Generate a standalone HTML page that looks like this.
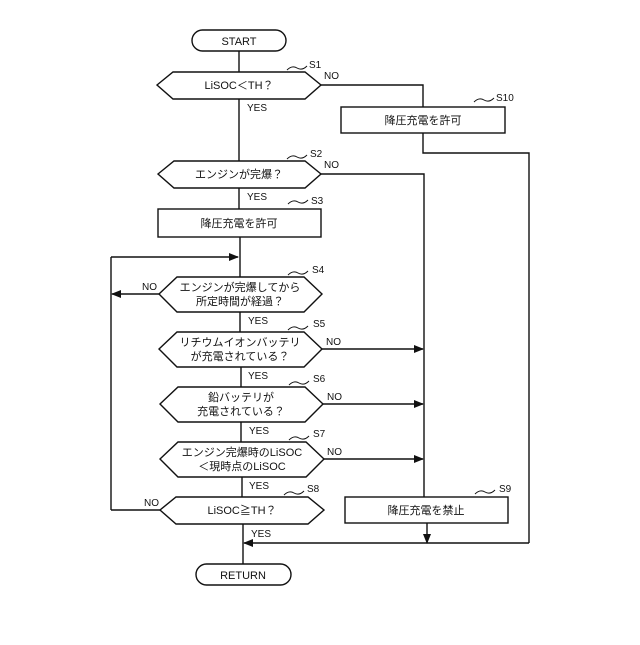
<!DOCTYPE html>
<html><head><meta charset="utf-8"><style>
body{margin:0;background:#fff}
svg text{font-family:"Liberation Sans","Noto Sans CJK JP",sans-serif;fill:#111}
</style></head><body>
<svg width="640" height="640" viewBox="0 0 640 640" xmlns="http://www.w3.org/2000/svg">
<defs><marker id="a" markerWidth="10" markerHeight="8" refX="9" refY="4" orient="auto" markerUnits="userSpaceOnUse"><path d="M0,0 L10,4 L0,8 Z" fill="#111"/></marker></defs>
<g stroke="#111" stroke-width="1.4" fill="none">
<rect x="192" y="30" width="94" height="21" rx="10.5"/>
<rect x="196" y="564" width="95" height="21" rx="10.5"/>
<line x1="239" y1="51" x2="239" y2="72"/>
<polygon points="157,85 173,72 305,72 321,85 305,99 173,99"/>
<line x1="239" y1="99" x2="239" y2="161"/>
<polyline points="321,85 423,85 423,107"/>
<rect x="341" y="107" width="164" height="26"/>
<polyline points="423,133 423,153 529,153 529,543"/>
<polygon points="158,174 174,161 305,161 321,174 305,188 174,188"/>
<polyline points="321,174 424,174 424,497"/>
<line x1="239" y1="188" x2="239" y2="209"/>
<rect x="158" y="209" width="163" height="28"/>
<line x1="240" y1="237" x2="240" y2="277"/>
<line x1="111" y1="257" x2="238" y2="257" marker-end="url(#a)"/>
<line x1="111" y1="257" x2="111" y2="510"/>
<polygon points="159,294 177,277 304,277 322,294 304,312 177,312"/>
<line x1="160" y1="294" x2="112" y2="294" marker-end="url(#a)"/>
<line x1="240" y1="312" x2="240" y2="332"/>
<polygon points="159,349 177,332 304,332 322,349 304,367 177,367"/>
<line x1="322" y1="349" x2="423" y2="349" marker-end="url(#a)"/>
<line x1="241" y1="367" x2="241" y2="387"/>
<polygon points="160,404 178,387 305,387 323,404 305,422 178,422"/>
<line x1="323" y1="404" x2="423" y2="404" marker-end="url(#a)"/>
<line x1="241" y1="422" x2="241" y2="442"/>
<polygon points="160,459 178,442 306,442 324,459 306,477 178,477"/>
<line x1="324" y1="459" x2="423" y2="459" marker-end="url(#a)"/>
<line x1="242" y1="477" x2="242" y2="497"/>
<polygon points="160,510 176,497 308,497 324,510 308,524 176,524"/>
<line x1="160" y1="510" x2="111" y2="510"/>
<line x1="243" y1="524" x2="243" y2="564"/>
<rect x="345" y="497" width="163" height="26"/>
<line x1="427" y1="523" x2="427" y2="543" marker-end="url(#a)"/>
<line x1="529" y1="543" x2="244" y2="543" marker-end="url(#a)"/>
<g stroke-width="1">
<path d="M287,70 q5,-5 10,-2 t10,-2"/><path d="M474,102 q5,-5 10,-2 t10,-2"/>
<path d="M287,159 q5,-5 10,-2 t10,-2"/><path d="M288,204 q5,-5 10,-2 t10,-2"/>
<path d="M288,275 q5,-5 10,-2 t10,-2"/><path d="M288,330 q5,-5 10,-2 t10,-2"/>
<path d="M289,385 q5,-5 10,-2 t10,-2"/><path d="M289,440 q5,-5 10,-2 t10,-2"/>
<path d="M284,495 q5,-5 10,-2 t10,-2"/><path d="M475,494 q5,-5 10,-2 t10,-2"/>
</g></g>
<g font-size="11" text-anchor="middle">
<text x="239" y="45">START</text>
<text x="243" y="579">RETURN</text>
<text x="239" y="89">LiSOC＜TH？</text>
<text x="423" y="124">降圧充電を許可</text>
<text x="239" y="178">エンジンが完爆？</text>
<text x="239" y="227">降圧充電を許可</text>
<text x="240" y="291">エンジンが完爆してから</text>
<text x="240" y="305">所定時間が経過？</text>
<text x="240" y="346">リチウムイオンバッテリ</text>
<text x="240" y="360">が充電されている？</text>
<text x="241" y="401">鉛バッテリが</text>
<text x="241" y="415">充電されている？</text>
<text x="242" y="456">エンジン完爆時のLiSOC</text>
<text x="242" y="470">＜現時点のLiSOC</text>
<text x="242" y="514">LiSOC≧TH？</text>
<text x="426" y="514">降圧充電を禁止</text>
</g>
<g font-size="10">
<text x="309" y="68">S1</text><text x="496" y="101">S10</text><text x="310" y="157">S2</text>
<text x="311" y="204">S3</text><text x="312" y="273">S4</text><text x="313" y="327">S5</text>
<text x="313" y="382">S6</text><text x="313" y="437">S7</text><text x="307" y="492">S8</text><text x="499" y="492">S9</text>
<text x="324" y="79">NO</text><text x="324" y="168">NO</text><text x="142" y="290">NO</text>
<text x="326" y="345">NO</text><text x="327" y="400">NO</text><text x="327" y="455">NO</text><text x="144" y="506">NO</text>
<text x="247" y="111">YES</text><text x="247" y="200">YES</text><text x="248" y="324">YES</text>
<text x="248" y="379">YES</text><text x="249" y="434">YES</text><text x="249" y="489">YES</text><text x="251" y="537">YES</text>
</g>
</svg>
</body></html>
